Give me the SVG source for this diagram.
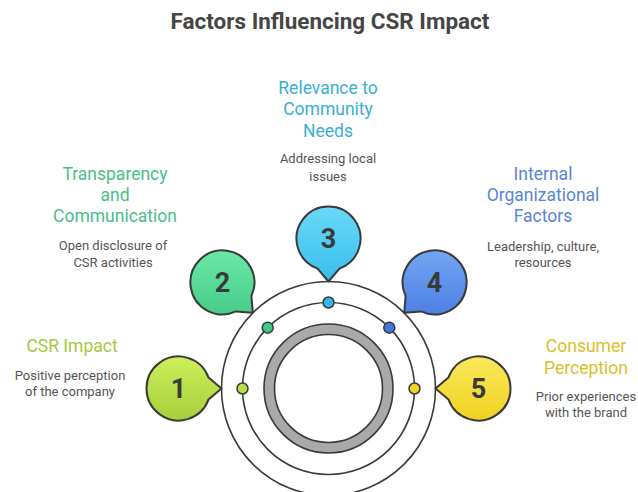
<svg xmlns="http://www.w3.org/2000/svg" width="638" height="492" viewBox="0 0 638 492">
  <style>
    .title { font-family: Roboto, "Liberation Sans", sans-serif; font-size: 22.5px; font-weight: 700; fill: #454545; text-anchor: middle; }
    .head { font-family: Roboto, "Liberation Sans", sans-serif; font-size: 17.5px; text-anchor: middle; }
    .desc { font-family: Roboto, "Liberation Sans", sans-serif; font-size: 13px; fill: #555555; text-anchor: middle; }
    .num { font-family: Roboto, "Liberation Sans", sans-serif; font-size: 27px; font-weight: 700; fill: #3a3a3a; text-anchor: middle; }
    .bubble { stroke: #3a3a3a; stroke-width: 2; stroke-linejoin: round; }
    .ring { fill: none; stroke: #3a3a3a; stroke-width: 1.6; }
    .dot { stroke: #3a3a3a; stroke-width: 1.5; }
  </style>
  <defs>
    <linearGradient id="g1" x1="0" y1="0" x2="0" y2="1"><stop offset="0" stop-color="#cdee5a"/><stop offset="1" stop-color="#a6d03a"/></linearGradient>
    <linearGradient id="g2" x1="0" y1="0" x2="0" y2="1"><stop offset="0" stop-color="#6ae8a8"/><stop offset="1" stop-color="#47cc8a"/></linearGradient>
    <linearGradient id="g3" x1="0" y1="0" x2="0" y2="1"><stop offset="0" stop-color="#6ad9f7"/><stop offset="1" stop-color="#38bdec"/></linearGradient>
    <linearGradient id="g4" x1="0" y1="0" x2="0" y2="1"><stop offset="0" stop-color="#74a5f3"/><stop offset="1" stop-color="#4d80e4"/></linearGradient>
    <linearGradient id="g5" x1="0" y1="0" x2="0" y2="1"><stop offset="0" stop-color="#f8e85a"/><stop offset="1" stop-color="#f1d222"/></linearGradient>
  </defs>

  <rect width="638" height="492" fill="#ffffff"/>

  <text class="title" x="330" y="29">Factors Influencing CSR Impact</text>

  <!-- concentric rings around the hub -->
  <g id="hub">
    <circle class="ring" cx="328.5" cy="388.5" r="107"/>
    <circle class="ring" cx="328.5" cy="388.5" r="86"/>
    <circle cx="328.5" cy="388.5" r="59.3" fill="none" stroke="#a9a9a9" stroke-width="10.5"/>
    <circle class="ring" cx="328.5" cy="388.5" r="64.5" stroke-width="2"/>
    <circle class="ring" cx="328.5" cy="388.5" r="54" stroke-width="2"/>
  </g>

  <!-- markers on the middle ring -->
  <g id="connectors">
    <circle class="dot" cx="242.5" cy="388.5" r="5.5" fill="#b9dc48"/>
    <circle class="dot" cx="267.7" cy="327.7" r="5.5" fill="#3cc887"/>
    <circle class="dot" cx="328.5" cy="302.5" r="5.5" fill="#2fb8e8"/>
    <circle class="dot" cx="389.3" cy="327.7" r="5.5" fill="#3f76e0"/>
    <circle class="dot" cx="414.5" cy="388.5" r="5.5" fill="#f2d324"/>
  </g>

  <g id="node1">
    <path class="bubble" fill="url(#g1)" d="M208.57 377.56 L221.5 388.5 L208.57 399.44 A32 32 0 1 1 208.57 377.56 Z"/>
    <text class="num" x="178.5" y="398">1</text>
    <text class="head" x="72" y="352" fill="#a6c83f">CSR Impact</text>
    <text class="desc" x="70" y="380">Positive perception</text>
    <text class="desc" x="70" y="396">of the company</text>
  </g>

  <g id="node2">
    <path class="bubble" fill="url(#g2)" d="M251.4 295.92 L252.81 312.81 L235.92 311.4 A32 32 0 1 1 251.4 295.92 Z"/>
    <text class="num" x="222.4" y="292">2</text>
    <text class="head" x="115" y="180" fill="#47bf86">Transparency</text>
    <text class="head" x="115" y="201" fill="#47bf86">and</text>
    <text class="head" x="115" y="222" fill="#47bf86">Communication</text>
    <text class="desc" x="113" y="250">Open disclosure of</text>
    <text class="desc" x="113" y="267">CSR activities</text>
  </g>

  <g id="node3">
    <path class="bubble" fill="url(#g3)" d="M339.44 268.57 L328.5 281.5 L317.56 268.57 A32 32 0 1 1 339.44 268.57 Z"/>
    <text class="num" x="328.5" y="248">3</text>
    <text class="head" x="328" y="94" fill="#3aaed6">Relevance to</text>
    <text class="head" x="328" y="115" fill="#3aaed6">Community</text>
    <text class="head" x="328" y="137" fill="#3aaed6">Needs</text>
    <text class="desc" x="328" y="163">Addressing local</text>
    <text class="desc" x="328" y="181">issues</text>
  </g>

  <g id="node4">
    <path class="bubble" fill="url(#g4)" d="M421.08 311.4 L404.19 312.81 L405.6 295.92 A32 32 0 1 1 421.08 311.4 Z"/>
    <text class="num" x="434.6" y="292">4</text>
    <text class="head" x="543" y="180" fill="#5884d8">Internal</text>
    <text class="head" x="543" y="201" fill="#5884d8">Organizational</text>
    <text class="head" x="543" y="222" fill="#5884d8">Factors</text>
    <text class="desc" x="543" y="251">Leadership, culture,</text>
    <text class="desc" x="543" y="267">resources</text>
  </g>

  <g id="node5">
    <path class="bubble" fill="url(#g5)" d="M448.43 399.44 L435.5 388.5 L448.43 377.56 A32 32 0 1 1 448.43 399.44 Z"/>
    <text class="num" x="478.5" y="398">5</text>
    <text class="head" x="586" y="352" fill="#d8c12a">Consumer</text>
    <text class="head" x="586" y="374" fill="#d8c12a">Perception</text>
    <text class="desc" x="586" y="401">Prior experiences</text>
    <text class="desc" x="586" y="417">with the brand</text>
  </g>
</svg>
